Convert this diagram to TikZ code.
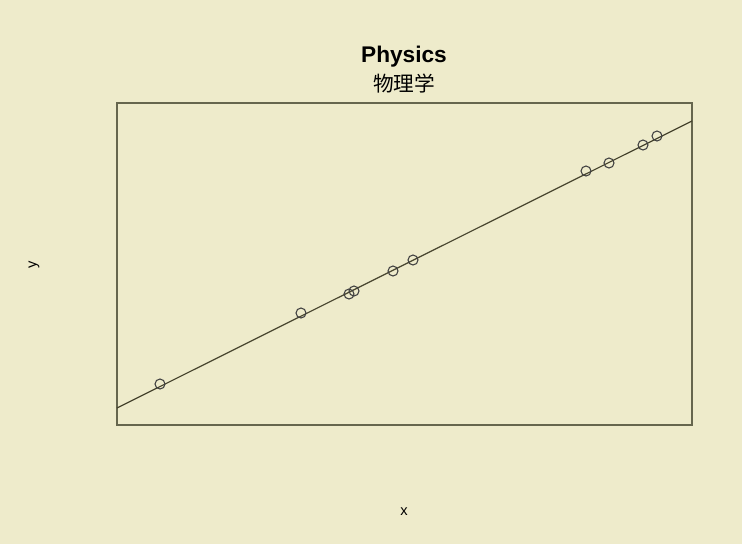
\documentclass[tikz,border=0pt]{standalone}
\usepackage{fontspec}
\setsansfont{Liberation Sans}
\newfontfamily\cjk{Noto Sans CJK SC}
\usetikzlibrary{positioning,calc}
\definecolor{paper}{HTML}{EEEBCB}
\definecolor{frameGray}{HTML}{66664E}
\begin{document}
\begin{tikzpicture}[x=0.75pt, y=-0.75pt,
		dataPoint/.style={
				draw, shape=circle, line width=0.8pt,
				minimum size=7.5pt, inner sep=0pt, color=black!75
			},
		fitLine/.style={line width=0.9pt, color=black!65!olive},
		axisLabel/.style={font=\sffamily\fontsize{11}{13}\selectfont, inner sep=0pt}
	]
	\fill[paper] (0,0) rectangle (742,544);
	\useasboundingbox (0,0) rectangle (742,544);

	% Titles
	\node[font=\sffamily\bfseries\fontsize{17}{20}\selectfont] (title) at (404,57) {Physics};
	\node[font=\cjk\fontsize{15.5}{18}\selectfont, below=-2pt of title] (subtitle) {物理学};

	% Plot region
	\coordinate (boxNW) at (117,103);
	\coordinate (boxSE) at (692,425);
	\draw[frameGray, line width=0.85pt] (boxNW) rectangle (boxSE);

	% Fitted line
	\coordinate (lineL) at (117,408);
	\coordinate (lineR) at (692,121);
	\draw[fitLine] (lineL) -- (lineR);

	% Observations
	\foreach \px/\py [count=\i] in {160/384, 301/313, 349/294, 354/291, 393/271,
			413/260, 586/171, 609/163, 643/145, 657/136}
		\node[dataPoint] (p\i) at (\px,\py) {};

	% Axis labels
	\node[axisLabel] (xlab) at (404,512) {x};
	\node[axisLabel, rotate=90] (ylab) at (34,265) {y};
\end{tikzpicture}
\end{document}
